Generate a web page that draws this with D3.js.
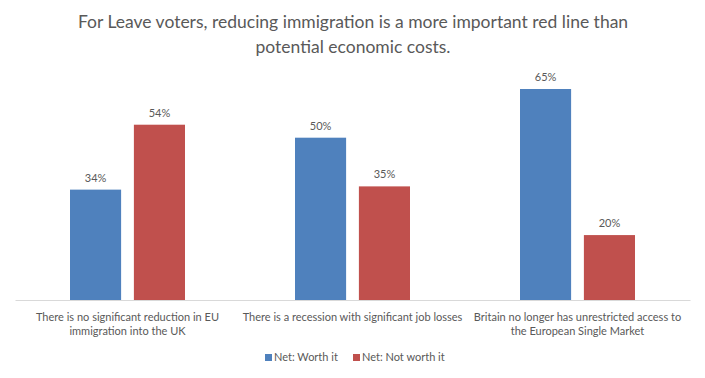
<!DOCTYPE html>
<html><head><meta charset="utf-8">
<script src="https://cdnjs.cloudflare.com/ajax/libs/d3/7.8.5/d3.min.js"></script>
<style>body{margin:0;background:#fff}svg{display:block}text{font-family:Lato,"Open Sans",sans-serif}</style>
</head><body>
<svg id="c" width="705" height="378"></svg>
<script>
const titleLines = ["For Leave voters, reducing immigration is a more important red line than", "potential economic costs."];
const categories = ["c1", "c2", "c3"];
const categoryLabels = [
  ["There is no significant reduction in EU", "immigration into the UK"],
  ["There is a recession with significant job losses"],
  ["Britain no longer has unrestricted access to", "the European Single Market"]
];
const seriesNames = ["Net: Worth it", "Net: Not worth it"];
const worthIt = [34, 50, 65];
const notWorthIt = [54, 35, 20];
const colors = ["#4F81BD", "#C0504D"];

const svg = d3.select("#c");
const gray = "#595959";

svg.append("g").selectAll("text").data(titleLines).join("text")
  .attr("x", 353).attr("y", (d, i) => 28 + i * 25)
  .attr("text-anchor", "middle").attr("fill", gray)
  .style("font-size", "17.5px").text(d => d);

const x0 = d3.scaleBand().domain(categories).range([15, 690]).paddingInner(0).paddingOuter(0);
const x1 = d3.scaleBand().domain([0, 1]).range([55, 170]).paddingInner(0.2);
const y = d3.scaleLinear().domain([0, 65]).range([300, 89]);

const series = [worthIt, notWorthIt];
const g = svg.append("g");
series.forEach((vals, s) => {
  g.selectAll(null).data(vals).join("rect")
    .attr("x", (d, i) => x0(categories[i]) + x1(s))
    .attr("y", d => y(d))
    .attr("width", x1.bandwidth())
    .attr("height", d => y(0) - y(d))
    .attr("fill", colors[s]);
  g.selectAll(null).data(vals).join("text")
    .attr("x", (d, i) => x0(categories[i]) + x1(s) + x1.bandwidth() / 2)
    .attr("y", d => y(d) - 8)
    .attr("text-anchor", "middle").attr("fill", gray)
    .style("font-size", "11px").text(d => d + "%");
});

const xAxis = d3.axisBottom(x0).tickSize(0).tickFormat("");
const ax = svg.append("g").attr("transform", "translate(0,300)").call(xAxis);
ax.select(".domain").attr("stroke", "#d9d9d9").attr("stroke-width", 1);

categoryLabels.forEach((lines, i) => {
  const cx = x0(categories[i]) + x0.bandwidth() / 2;
  svg.append("g").selectAll("text").data(lines).join("text")
    .attr("x", cx).attr("y", (d, j) => 321 + j * 14)
    .attr("text-anchor", "middle").attr("fill", gray)
    .style("font-size", "11px").text(d => d);
});

const legend = svg.append("g");
const lx = [265, 353];
seriesNames.forEach((n, i) => {
  legend.append("rect").attr("x", lx[i]).attr("y", 354).attr("width", 7).attr("height", 7).attr("fill", colors[i]);
  legend.append("text").attr("x", lx[i] + 9).attr("y", 361).attr("fill", gray)
    .style("font-size", "11px").text(n);
});
</script>
</body></html>
